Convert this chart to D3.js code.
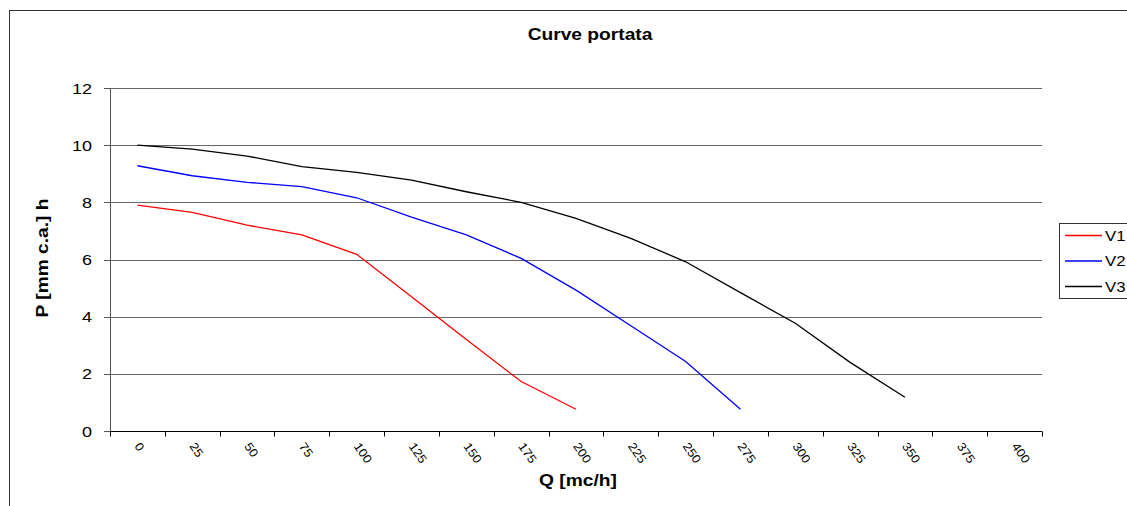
<!DOCTYPE html>
<html><head><meta charset="utf-8">
<script src="https://cdn.jsdelivr.net/npm/d3@7"></script>
<style>body{margin:0;background:#fff}svg{display:block;font-family:"Liberation Sans",Arial,sans-serif}</style>
</head><body><svg id="c" width="1127" height="506"></svg>
<script>
const categories = [0,25,50,75,100,125,150,175,200,225,250,275,300,325,350,375,400];
const yTicks = [0,2,4,6,8,10,12];
const V1 = [7.9,7.65,7.2,6.86,6.18,4.7,3.2,1.73,0.76];
const V2 = [9.28,8.93,8.7,8.55,8.16,7.48,6.86,6.04,4.93,3.68,2.43,0.76];
const V3 = [10.0,9.86,9.62,9.25,9.05,8.78,8.37,8.0,7.44,6.74,5.92,4.84,3.77,2.4,1.18];
const seriesNames = ["V1","V2","V3"];
const seriesColors = ["#ff0000","#0000ff","#000000"];
const seriesData = [V1,V2,V3];

const svg = d3.select("#c");
const L=110,R=1042,T=88,B=431;
const SX=1.2;
function txt(g,x,y,s,size,anchor,bold,rot){
  return g.append("text")
    .attr("transform",`translate(${x},${y})${rot?` rotate(${rot})`:""} scale(${SX},1)`)
    .attr("text-anchor",anchor||"start").attr("font-size",size)
    .attr("font-weight",bold?"bold":"normal").attr("fill","#000").text(s);
}
svg.append("rect").attr("x",9.5).attr("y",10.5).attr("width",1160).attr("height",520)
  .attr("fill","#fff").attr("stroke","#333").attr("stroke-width",1);

const x = d3.scaleBand().domain(categories).range([L,R]).padding(0);
const y = d3.scaleLinear().domain([0,12]).range([B,T]);

// gridlines
svg.append("g").selectAll("line").data(yTicks.filter(d=>d>0)).join("line")
  .attr("x1",L).attr("x2",R).attr("y1",d=>Math.round(y(d))+0.5).attr("y2",d=>Math.round(y(d))+0.5)
  .attr("stroke","#666").attr("stroke-width",1);

// y axis
const ya = svg.append("g");
ya.append("line").attr("x1",L+0.5).attr("x2",L+0.5).attr("y1",T).attr("y2",B).attr("stroke","#555");
ya.selectAll("line.t").data(yTicks).join("line").attr("class","t")
  .attr("x1",L-6).attr("x2",L).attr("y1",d=>Math.round(y(d))+0.5).attr("y2",d=>Math.round(y(d))+0.5).attr("stroke","#555");
yTicks.forEach(t=>txt(ya,92,y(t)+5.5,t,15,"end"));

// x axis
const xa = svg.append("g").attr("transform",`translate(0,${B+0.5})`);
xa.append("line").attr("x1",L).attr("x2",R).attr("stroke","#000");
const bounds = categories.map(c=>x(c)).concat([R]);
xa.selectAll("line.t").data(bounds).join("line").attr("class","t")
  .attr("x1",d=>Math.round(d)+0.5).attr("x2",d=>Math.round(d)+0.5).attr("y1",0).attr("y2",5).attr("stroke","#000");
xa.selectAll("text").data(categories).join("text")
  .attr("transform",d=>`translate(${x(d)+x.bandwidth()/2+3.5},10) rotate(55) scale(1.1,1)`)
  .attr("text-anchor","start").attr("dominant-baseline","hanging")
  .attr("font-size",12).text(d=>d);

// lines
const line = d3.line().x((d,i)=>x(categories[i])+x.bandwidth()/2).y(d=>y(d));
seriesData.forEach((s,k)=>{
  svg.append("path").datum(s).attr("d",line).attr("fill","none")
    .attr("stroke",seriesColors[k]).attr("stroke-width",1.3);
});

// titles
txt(svg,590,40,"Curve portata",16,"middle",true);
txt(svg,578,486,"Q [mc/h]",16,"middle",true);
txt(svg,48,258,"P [mm c.a.] h",16,"middle",true,-90);

// legend
svg.append("rect").attr("x",1059.5).attr("y",223.5).attr("width",80).attr("height",75)
  .attr("fill","#fff").attr("stroke","#333");
seriesNames.forEach((n,k)=>{
  const yy=235+k*25.5;
  svg.append("line").attr("x1",1065).attr("x2",1102).attr("y1",yy+0.5).attr("y2",yy+0.5)
    .attr("stroke",seriesColors[k]).attr("stroke-width",1.3);
  txt(svg,1105,yy+5.5,n,14,"start");
});
</script></body></html>
